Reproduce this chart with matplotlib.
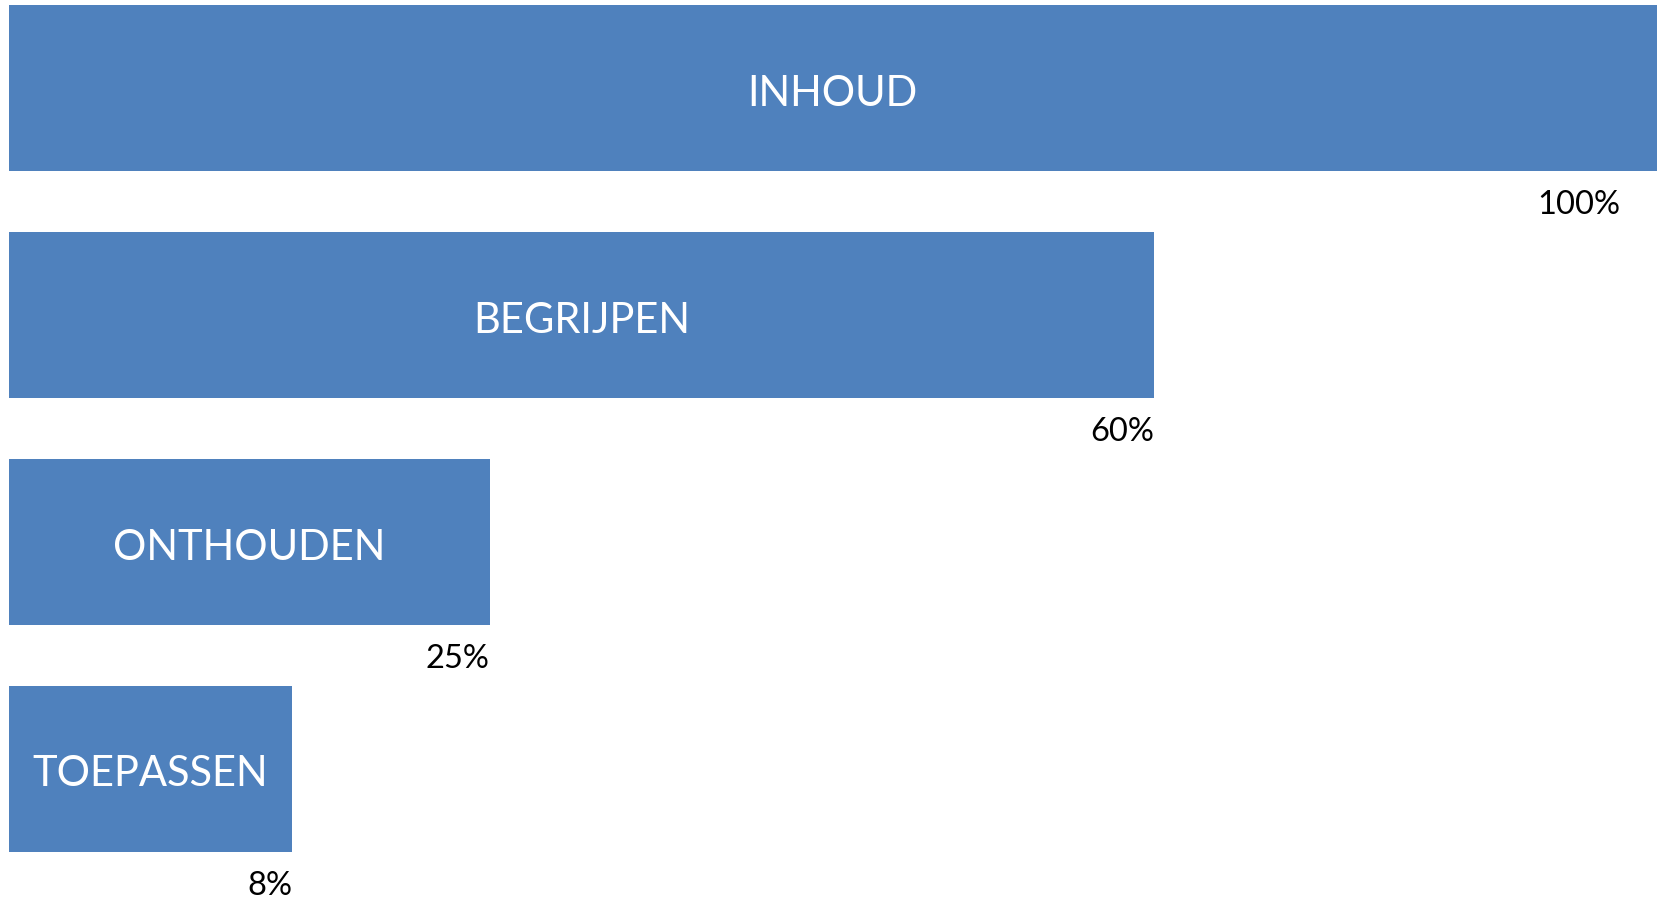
import matplotlib
matplotlib.use("Agg")
import matplotlib.pyplot as plt

categories = ["INHOUD", "BEGRIJPEN", "ONTHOUDEN", "TOEPASSEN"]
pct_labels = ["100%", "60%", "25%", "8%"]
bar_lengths = [100.0, 69.5, 29.2, 17.2]   # drawn length, % of full width

plt.rcParams['font.family'] = ['Lato', 'DejaVu Sans']

fig = plt.figure(figsize=(16.59, 8.99), dpi=100)
ax = fig.add_axes([8.5 / 1659, 0, 1648.5 / 1659, 1])
ax.set_xlim(0, 100)
ax.set_ylim(3.574, -0.3896)
ax.axis('off')

pos = list(range(len(categories)))
ax.barh(pos, bar_lengths, height=0.733, color='#4F81BD', edgecolor='none')

for i, (cat, lab, v) in enumerate(zip(categories, pct_labels, bar_lengths)):
    ax.text(v / 2, i + 0.025, cat, ha='center', va='center', color='white', fontsize=30)
    ax.text(min(v, 97.75), i + 0.515, lab, ha='right', va='center', color='black', fontsize=23.5)

fig.savefig("out.png", dpi=100)
